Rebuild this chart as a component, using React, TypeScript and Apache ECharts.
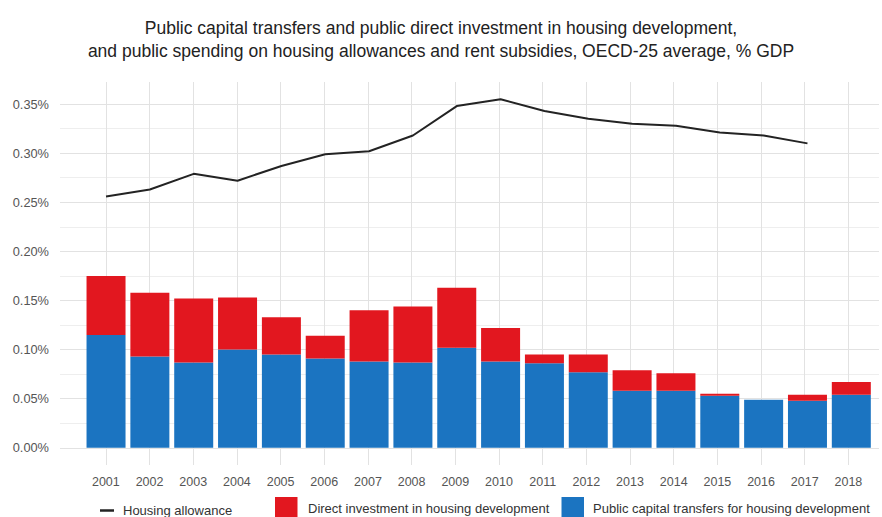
import React, { useEffect, useRef } from "react";
import * as echarts from "echarts";

// ---- Data ----
const years = ["2001", "2002", "2003", "2004", "2005", "2006", "2007", "2008", "2009", "2010", "2011", "2012", "2013", "2014", "2015", "2016", "2017", "2018"];
// Housing allowance, % GDP (2001-2017)
const housingAllowance = [0.256, 0.263, 0.279, 0.272, 0.287, 0.299, 0.302, 0.318, 0.348, 0.355, 0.343, 0.335, 0.33, 0.328, 0.321, 0.318, 0.31];
// Direct investment in housing development, % GDP
const directInvestment = [0.06, 0.065, 0.065, 0.053, 0.038, 0.023, 0.052, 0.057, 0.061, 0.034, 0.009, 0.018, 0.021, 0.018, 0.002, 0.0, 0.006, 0.013];
// Public capital transfers for housing development, % GDP
const capitalTransfers = [0.115, 0.093, 0.087, 0.1, 0.095, 0.091, 0.088, 0.087, 0.102, 0.088, 0.086, 0.077, 0.058, 0.058, 0.053, 0.049, 0.048, 0.054];
// y tick labels
const yTickValues = [0, 0.05, 0.1, 0.15, 0.2, 0.25, 0.3, 0.35];
const yTickLabels = ["0.00%", "0.05%", "0.10%", "0.15%", "0.20%", "0.25%", "0.30%", "0.35%"];

const titleLines = [
  "Public capital transfers and public direct investment in housing development,",
  "and public spending on housing allowances and rent subsidies, OECD-25 average, % GDP",
];
const seriesNames = [
  "Housing allowance",
  "Direct investment in housing development",
  "Public capital transfers for housing development",
];

const FONT = "'Liberation Sans', Arial, sans-serif";
const BLUE = "#1b74c1";
const RED = "#e2171f";
const LINE = "#232323";
const MAJOR = "#e2e2e2";
const MINOR = "#eeeeee";

// Axis ranges (ggplot-style expansion)
const Y_MIN = -0.0175;
const Y_MAX = 0.3725;
const Y_STEP = 0.0025;
// panel x-range in "year" units for the gridline/label axis
const X_MIN = 1999.95;
const X_MAX = 2018.7;
const X_STEP = 0.05;

const near = (a: number, b: number) => Math.abs(a - b) < 1e-6;

export default function App() {
  const ref = useRef<HTMLDivElement>(null);

  useEffect(() => {
    document.body.style.margin = "0";
    if (!ref.current) return;
    const chart = echarts.init(ref.current, undefined, { renderer: "svg" });

    const yearNums = years.map((y) => Number(y));

    // split-line colours per tick
    const yCount = Math.round((Y_MAX - Y_MIN) / Y_STEP);
    const yColors: string[] = [];
    for (let i = 0; i <= yCount; i++) {
      const v = Y_MIN + i * Y_STEP;
      const k50 = v / 0.05;
      const k25 = v / 0.025;
      if (v > -1e-9 && near(k50, Math.round(k50))) yColors.push(MAJOR);
      else if (v > -1e-9 && near(k25, Math.round(k25))) yColors.push(MINOR);
      else yColors.push("rgba(0,0,0,0)");
    }
    const xCount = Math.round((X_MAX - X_MIN) / X_STEP);
    const xColors: string[] = [];
    for (let i = 0; i <= xCount; i++) {
      const v = X_MIN + i * X_STEP;
      if (near(v, Math.round(v)) && yearNums.indexOf(Math.round(v)) >= 0) xColors.push(MAJOR);
      else xColors.push("rgba(0,0,0,0)");
    }

    // px per year on the panel
    const W = 882;
    const gridLeft = 60;
    const pxPerYear = (W - gridLeft) / (X_MAX - X_MIN);
    const firstCenter = gridLeft + (yearNums[0] - X_MIN) * pxPerYear;
    const barGridLeft = firstCenter - pxPerYear / 2;
    const barGridRight = W - (barGridLeft + years.length * pxPerYear);

    const option = {
      animation: false,
      backgroundColor: "#ffffff",
      textStyle: { fontFamily: FONT },
      title: {
        text: titleLines.join("\n"),
        left: "center",
        top: 11,
        textStyle: {
          fontFamily: FONT,
          fontSize: 17.5,
          fontWeight: "normal",
          color: "#222222",
          lineHeight: 23.5,
        },
      },
      legend: [
        {
          data: [seriesNames[0]],
          left: 100,
          top: 504,
          icon: "rect",
          itemWidth: 14,
          itemHeight: 2.5,
          padding: 0,
          selectedMode: false,
          textStyle: { fontFamily: FONT, fontSize: 13, color: "#333333", padding: [0, 0, 0, 4] },
        },
        {
          data: [seriesNames[1]],
          left: 275,
          top: 497,
          icon: "rect",
          itemWidth: 22.5,
          itemHeight: 22.5,
          padding: 0,
          selectedMode: false,
          textStyle: { fontFamily: FONT, fontSize: 13, color: "#333333", padding: [7, 0, 0, 5.5] },
        },
        {
          data: [seriesNames[2]],
          left: 561.5,
          top: 497,
          icon: "rect",
          itemWidth: 22.5,
          itemHeight: 22.5,
          padding: 0,
          selectedMode: false,
          textStyle: { fontFamily: FONT, fontSize: 13, color: "#333333", padding: [7, 0, 0, 4] },
        },
      ],
      grid: [
        { left: gridLeft, right: 0, top: 82, bottom: 52, containLabel: false },
        { left: barGridLeft, right: barGridRight, top: 82, bottom: 52, containLabel: false },
      ],
      xAxis: [
        {
          type: "value",
          gridIndex: 0,
          min: X_MIN,
          max: X_MAX,
          interval: X_STEP,
          axisLine: { show: false },
          axisTick: { show: false },
          axisLabel: {
            margin: 10,
            fontFamily: FONT,
            fontSize: 12.5,
            color: "#555555",
            showMinLabel: true,
            showMaxLabel: true,
            formatter: (v: number) => {
              const r = Math.round(v);
              const idx = yearNums.indexOf(r);
              return near(v, r) && idx >= 0 ? years[idx] : "";
            },
          },
          splitLine: { show: true, lineStyle: { color: xColors, width: 1 } },
        },
        {
          type: "category",
          gridIndex: 1,
          data: years,
          boundaryGap: true,
          show: false,
        },
      ],
      yAxis: [
        {
          type: "value",
          gridIndex: 0,
          min: Y_MIN,
          max: Y_MAX,
          interval: Y_STEP,
          axisLine: { show: false },
          axisTick: { show: false },
          axisLabel: {
            margin: 11,
            fontFamily: FONT,
            fontSize: 12.8,
            color: "#555555",
            formatter: (v: number) => {
              for (let i = 0; i < yTickValues.length; i++) {
                if (near(v, yTickValues[i])) return yTickLabels[i];
              }
              return "";
            },
          },
          splitLine: { show: true, lineStyle: { color: yColors, width: 1 } },
        },
        {
          type: "value",
          gridIndex: 1,
          min: Y_MIN,
          max: Y_MAX,
          show: false,
          splitLine: { show: false },
        },
      ],
      series: [
        {
          name: seriesNames[2],
          type: "bar",
          xAxisIndex: 1,
          yAxisIndex: 1,
          stack: "housing",
          barWidth: 39,
          color: BLUE,
          itemStyle: { color: BLUE },
          data: capitalTransfers,
        },
        {
          name: seriesNames[1],
          type: "bar",
          xAxisIndex: 1,
          yAxisIndex: 1,
          stack: "housing",
          barWidth: 39,
          color: RED,
          itemStyle: { color: RED },
          data: directInvestment,
        },
        {
          name: seriesNames[0],
          type: "line",
          xAxisIndex: 1,
          yAxisIndex: 1,
          color: LINE,
          showSymbol: false,
          symbol: "none",
          itemStyle: { color: LINE },
          lineStyle: { color: LINE, width: 2 },
          data: housingAllowance,
          z: 5,
        },
      ],
    };

    chart.setOption(option as any);
    return () => chart.dispose();
  }, []);

  return (
    <div
      ref={ref}
      style={{ position: "absolute", left: 0, top: 0, width: 882, height: 517 }}
    />
  );
}
